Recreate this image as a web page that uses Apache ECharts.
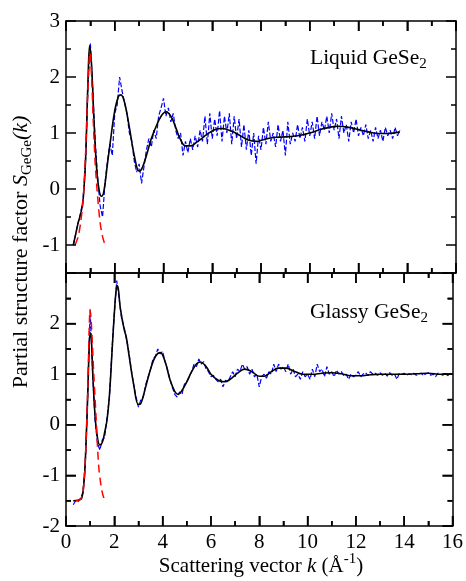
<!DOCTYPE html>
<html><head><meta charset="utf-8">
<script src="https://cdn.jsdelivr.net/npm/echarts@6/dist/echarts.min.js"></script>
<style>html,body{margin:0;padding:0;background:#fff}#c{width:466px;height:581px}</style>
</head><body><div id="c"></div>
<script>
const FONT = 'Liberation Serif';

// tick positions / labels
const xMajorTicks = [0, 2, 4, 6, 8, 10, 12, 14, 16];
const xMinorTicks = [1, 3, 5, 7, 9, 11, 13, 15];
const liquidYTicks = [-1, 0, 1, 2, 3];
const liquidYMinor = [-1.5, -0.5, 0.5, 1.5, 2.5];
const glassyYTicks = [-2, -1, 0, 1, 2];
const glassyYMajor = [-2, -1, 0, 1, 2, 3];
const glassyYMinor = [-1.5, -0.5, 0.5, 1.5, 2.5];

// Liquid GeSe2 : noisy blue data sampled from k = 0.3 in steps of 0.1
const liquidBlueStart = 0.3;
const liquidBlueStep = 0.1;
const liquidBlue = [
 -1.0,-0.8,-0.6,-0.42,-0.2,0.45,1.85,2.6,1.75,0.85,
 0.2,-0.3,-0.5,0.1,0.5,0.8,0.6,1.35,1.5,2.0,
 1.75,1.55,1.35,1.0,0.85,0.5,0.3,0.45,0.1,0.4,
 0.7,0.9,0.75,1.05,0.9,1.3,1.45,1.62,1.3,1.45,
 1.2,1.35,1.05,0.9,1.0,0.6,0.85,0.65,0.9,0.7,
 0.95,0.75,1.05,0.85,1.3,0.8,1.35,0.9,1.25,0.95,
 1.4,0.85,1.3,1.0,1.35,0.8,1.3,0.9,1.25,0.75,
 1.15,0.7,1.05,0.6,1.0,0.45,0.95,0.7,1.1,0.8,
 1.2,0.85,1.0,0.75,1.15,0.85,1.05,0.6,1.2,0.8,
 1.0,0.85,1.15,0.9,1.1,0.85,1.25,0.95,1.2,0.9,
 1.3,0.95,1.2,1.05,1.3,1.0,1.35,1.05,1.25,0.9,
 1.3,1.0,1.15,0.85,1.2,1.0,1.25,0.95,1.1,0.95,
 1.15,0.9,1.05,0.85,1.1,0.9,1.05,0.85,1.1,0.95,
 1.05,0.9,1.1,0.95,1.05
];
// Liquid GeSe2 : smooth black fit [k, S]
const liquidFit = [
 [0.3,-1.0],[0.4,-0.8],[0.5,-0.6],[0.6,-0.45],[0.7,-0.2],[0.8,0.5],[0.9,1.9],[0.97,2.56],
 [1.05,2.2],[1.15,1.2],[1.25,0.4],[1.35,0.0],[1.45,-0.13],[1.55,-0.05],[1.7,0.45],[1.85,0.95],
 [2.0,1.4],[2.15,1.65],[2.25,1.68],[2.4,1.55],[2.6,1.1],[2.8,0.6],[3.0,0.32],[3.1,0.35],
 [3.3,0.6],[3.5,0.9],[3.7,1.12],[3.9,1.3],[4.1,1.38],[4.3,1.3],[4.5,1.1],[4.7,0.88],
 [4.9,0.77],[5.1,0.77],[5.4,0.85],[5.8,0.98],[6.1,1.06],[6.4,1.08],[6.8,1.03],[7.2,0.94],
 [7.5,0.87],[7.8,0.85],[8.1,0.88],[8.5,0.92],[9.0,0.93],[9.5,0.95],[10.0,1.0],[10.5,1.07],
 [10.9,1.11],[11.2,1.12],[11.6,1.1],[12.0,1.06],[12.4,1.02],[12.8,0.99],[13.2,0.99],[13.7,1.02]
];
// Liquid GeSe2 : red dashed curve [k, S]
const liquidRed = [
 [0.37,-1.0],[0.5,-0.85],[0.6,-0.6],[0.7,-0.2],[0.8,0.6],[0.9,1.8],[0.98,2.44],[1.05,2.0],
 [1.12,1.2],[1.2,0.45],[1.3,-0.15],[1.4,-0.6],[1.5,-0.85],[1.6,-1.0]
];

// Glassy GeSe2 : noisy blue data sampled from k = 0.3 in steps of 0.1
const glassyBlueStart = 0.3;
const glassyBlueStep = 0.1;
const glassyBlue = [
 -1.58,-1.5,-1.52,-1.45,-1.35,-0.75,0.6,2.27,1.05,0.1,
 -0.35,-0.5,-0.3,-0.25,0.15,0.55,1.45,2.2,2.85,2.5,
 2.1,1.95,1.7,1.45,1.1,0.8,0.55,0.35,0.5,0.55,
 0.8,0.95,1.1,1.3,1.35,1.5,1.4,1.45,1.25,1.1,
 0.9,0.75,0.6,0.55,0.65,0.6,0.8,0.85,0.95,1.05,
 1.2,1.15,1.3,1.2,1.25,1.1,1.05,0.95,0.98,0.9,
 0.85,0.9,0.75,0.88,0.85,0.95,1.05,0.95,1.1,1.05,
 1.2,1.1,1.15,1.0,1.1,0.95,1.0,0.75,0.95,1.0,
 0.92,1.05,1.0,1.2,1.05,1.2,1.1,1.15,1.05,1.2,
 1.0,1.1,0.95,1.0,0.9,1.05,0.95,1.0,0.9,1.1,
 0.95,1.2,1.05,1.1,0.95,1.15,1.0,1.05,0.95,1.08,
 1.0,1.05,0.97,1.0,0.9,1.0,0.95,0.98,1.05,0.95,
 1.0,1.03,0.97,1.05,1.0,1.02,0.98,1.03,0.98,1.02,
 0.96,1.03,0.98,1.0,0.9,1.02,1.0,1.02,0.98,1.01,
 0.99,1.02,0.98,1.0,1.02,0.97,1.01,1.03,0.98,1.0,
 0.95,1.02,1.0,0.98,1.03,0.97,1.02,1.0
];
// Glassy GeSe2 : smooth black fit [k, S]
const glassyFit = [
 [0.3,-1.5],[0.5,-1.49],[0.65,-1.45],[0.75,-1.1],[0.8,-0.7],[0.85,-0.1],[0.9,0.6],[0.95,1.4],
 [1.0,1.82],[1.05,1.7],[1.1,1.1],[1.2,0.2],[1.3,-0.25],[1.4,-0.4],[1.5,-0.35],[1.6,-0.15],
 [1.7,0.1],[1.8,0.6],[1.9,1.4],[2.0,2.2],[2.08,2.68],[2.13,2.75],[2.25,2.3],[2.4,1.9],
 [2.5,1.72],[2.6,1.4],[2.8,0.8],[3.0,0.4],[3.1,0.42],[3.3,0.75],[3.5,1.1],[3.7,1.35],
 [3.9,1.43],[4.1,1.25],[4.3,0.9],[4.5,0.66],[4.65,0.6],[4.8,0.68],[5.0,0.85],[5.2,1.05],
 [5.4,1.2],[5.55,1.24],[5.8,1.15],[6.0,1.0],[6.3,0.88],[6.55,0.85],[6.8,0.9],[7.1,1.02],
 [7.4,1.1],[7.7,1.05],[8.0,0.96],[8.2,0.96],[8.5,1.05],[8.8,1.12],[9.1,1.12],[9.4,1.07],
 [9.8,1.0],[10.2,1.0],[10.6,1.02],[11.0,1.03],[11.4,1.01],[11.8,0.97],[12.2,0.97],[12.6,0.99],
 [13.0,1.0],[13.5,1.0],[14.0,1.0],[14.5,1.01],[15.0,1.02],[15.5,1.0],[16.0,1.0]
];
// Glassy GeSe2 : red dashed curve [k, S]
const glassyRed = [
 [0.4,-1.5],[0.6,-1.47],[0.7,-1.35],[0.8,-0.7],[0.9,0.7],[1.0,2.28],[1.05,2.0],[1.15,1.0],
 [1.25,0.1],[1.35,-0.8],[1.45,-1.2],[1.55,-1.42],[1.7,-1.52]
];

function toPairs(start, step, vals) {
  return vals.map((v, i) => [Math.round((start + i * step) * 100) / 100, v]);
}

const BLACK = '#000';
const MAJOR = 10, MINOR = 5;
const mkLine = () => ({show: true, onZero: false, lineStyle: {color: BLACK, width: 1.5}});
const mkLabel = extra => Object.assign({color: BLACK, fontFamily: FONT, fontSize: 21}, extra || {});

function xAx(grid, pos, showLabel) {
  return {
    type: 'value', gridIndex: grid, position: pos, min: 0, max: 16, interval: 2,
    axisLine: mkLine(),
    axisTick: {show: true, inside: true, length: MAJOR, lineStyle: {color: BLACK, width: 1.5}},
    minorTick: {show: true, splitNumber: 2, length: MINOR, lineStyle: {color: BLACK, width: 1.5}},
    axisLabel: showLabel ? mkLabel({show: true, margin: 6}) : {show: false},
    splitLine: {show: false}
  };
}

const chart = echarts.init(document.getElementById('c'));

const texts = [
  {type: 'text', x: 21, y: 252, rotation: Math.PI / 2, z: 20,
   style: {
     text: '{n|Partial structure factor }{i|S}{s|GeGe}{i|(k)}',
     align: 'center', verticalAlign: 'middle',
     rich: {
       n: {fontFamily: FONT, fontSize: 22, lineHeight: 28, fill: '#000'},
       i: {fontFamily: FONT, fontSize: 22, lineHeight: 28, fontStyle: 'italic', fill: '#000'},
       s: {fontFamily: FONT, fontSize: 15, lineHeight: 15, verticalAlign: 'bottom', fill: '#000'}
     }
   }},
  {type: 'text', x: 261, y: 566, z: 20,
   style: {
     text: '{n|Scattering vector }{i|k}{n| (Å}{p|-1}{n|)}',
     align: 'center', verticalAlign: 'middle',
     rich: {
       n: {fontFamily: FONT, fontSize: 21, lineHeight: 28, fill: '#000'},
       i: {fontFamily: FONT, fontSize: 21, lineHeight: 28, fontStyle: 'italic', fill: '#000'},
       p: {fontFamily: FONT, fontSize: 15, lineHeight: 15, verticalAlign: 'top', fill: '#000'}
     }
   }},
  {type: 'text', x: 310, y: 58, z: 20,
   style: {
     text: '{n|Liquid GeSe}{s|2}',
     align: 'left', verticalAlign: 'middle',
     rich: {
       n: {fontFamily: FONT, fontSize: 21.5, lineHeight: 28, fill: '#000'},
       s: {fontFamily: FONT, fontSize: 15, lineHeight: 15, verticalAlign: 'bottom', fill: '#000'}
     }
   }},
  {type: 'text', x: 310, y: 312, z: 20,
   style: {
     text: '{n|Glassy GeSe}{s|2}',
     align: 'left', verticalAlign: 'middle',
     rich: {
       n: {fontFamily: FONT, fontSize: 21.5, lineHeight: 28, fill: '#000'},
       s: {fontFamily: FONT, fontSize: 15, lineHeight: 15, verticalAlign: 'bottom', fill: '#000'}
     }
   }}
];

const option = {
  animation: false,
  backgroundColor: '#fff',
  grid: [
    {left: 66, top: 21, width: 390, height: 252},
    {left: 66, top: 273, width: 390, height: 253}
  ],
  xAxis: [
    xAx(0, 'bottom', false),
    xAx(0, 'top', false),
    xAx(1, 'top', false),
    xAx(1, 'bottom', true)
  ],
  yAxis: [
    {type: 'value', gridIndex: 0, position: 'left', min: -1.5, max: 3, interval: 0.5,
     axisLine: mkLine(), axisTick: {show: false},
     axisLabel: mkLabel({show: true, margin: 6, formatter: v => liquidYTicks.includes(v) ? String(v) : ''}),
     splitLine: {show: false}},
    {type: 'value', gridIndex: 0, position: 'right', min: -1.5, max: 3, interval: 0.5,
     axisLine: mkLine(), axisTick: {show: false}, axisLabel: {show: false}, splitLine: {show: false}},
    {type: 'value', gridIndex: 1, position: 'left', min: -2, max: 3, interval: 1,
     axisLine: mkLine(),
     axisTick: {show: true, inside: true, length: MAJOR, lineStyle: {color: BLACK, width: 1.5}},
     minorTick: {show: true, splitNumber: 2, length: MINOR, lineStyle: {color: BLACK, width: 1.5}},
     axisLabel: mkLabel({show: true, margin: 6, formatter: v => glassyYTicks.includes(v) ? String(v) : ''}),
     splitLine: {show: false}},
    {type: 'value', gridIndex: 1, position: 'right', min: -2, max: 3, interval: 1,
     axisLine: mkLine(),
     axisTick: {show: true, inside: true, length: MAJOR, lineStyle: {color: BLACK, width: 1.5}},
     minorTick: {show: true, splitNumber: 2, length: MINOR, lineStyle: {color: BLACK, width: 1.5}},
     axisLabel: {show: false}, splitLine: {show: false}}
  ],
  series: [
    {type: 'line', xAxisIndex: 0, yAxisIndex: 0, data: toPairs(liquidBlueStart, liquidBlueStep, liquidBlue),
     showSymbol: false, lineStyle: {color: '#0000ff', width: 1.2, type: [5, 2]}},
    {type: 'line', xAxisIndex: 0, yAxisIndex: 0, data: liquidFit, smooth: 0.4,
     showSymbol: false, lineStyle: {color: '#000', width: 1.6}},
    {type: 'line', xAxisIndex: 0, yAxisIndex: 0, data: liquidRed, smooth: 0.3,
     showSymbol: false, lineStyle: {color: '#ff0000', width: 1.5, type: [8, 5]}},
    {type: 'line', xAxisIndex: 3, yAxisIndex: 2, data: toPairs(glassyBlueStart, glassyBlueStep, glassyBlue),
     showSymbol: false, lineStyle: {color: '#0000ff', width: 1.2, type: [5, 2]}},
    {type: 'line', xAxisIndex: 3, yAxisIndex: 2, data: glassyFit, smooth: 0.4,
     showSymbol: false, lineStyle: {color: '#000', width: 1.6}},
    {type: 'line', xAxisIndex: 3, yAxisIndex: 2, data: glassyRed, smooth: 0.3,
     showSymbol: false, lineStyle: {color: '#ff0000', width: 1.5, type: [8, 5]}}
  ],
  graphic: texts
};
chart.setOption(option);

// tick marks placed through the axes' own scales (convertToPixel)
function panelTicks(xi, yi, yMin, yMax, yMajor, yMinor) {
  const finder = {xAxisIndex: xi, yAxisIndex: yi};
  const out = [];
  const seg = (x1, y1, x2, y2) => out.push({type: 'line', z: 30, silent: true,
    shape: {x1: x1, y1: y1, x2: x2, y2: y2}, style: {stroke: BLACK, lineWidth: 1.5}});
  const xt = (v, len) => {
    const b = chart.convertToPixel(finder, [v, yMin]);
    const t = chart.convertToPixel(finder, [v, yMax]);
    seg(b[0], b[1], b[0], b[1] - len);
    seg(t[0], t[1], t[0], t[1] + len);
  };
  const yt = (v, len) => {
    const l = chart.convertToPixel(finder, [0, v]);
    const r = chart.convertToPixel(finder, [16, v]);
    seg(l[0], l[1], l[0] + len, l[1]);
    seg(r[0], r[1], r[0] - len, r[1]);
  };
  xMajorTicks.forEach(v => xt(v, MAJOR));
  xMinorTicks.forEach(v => xt(v, MINOR));
  yMajor.forEach(v => yt(v, MAJOR));
  yMinor.forEach(v => yt(v, MINOR));
  return out;
}
try {
  const ticks = panelTicks(0, 0, -1.5, 3, liquidYTicks, liquidYMinor)
    .concat(panelTicks(3, 2, -2, 3, glassyYMajor, glassyYMinor));
  chart.setOption({graphic: texts.concat(ticks)}, {replaceMerge: ['graphic']});
} catch (e) { /* keep chart as drawn */ }
</script>
</body></html>
